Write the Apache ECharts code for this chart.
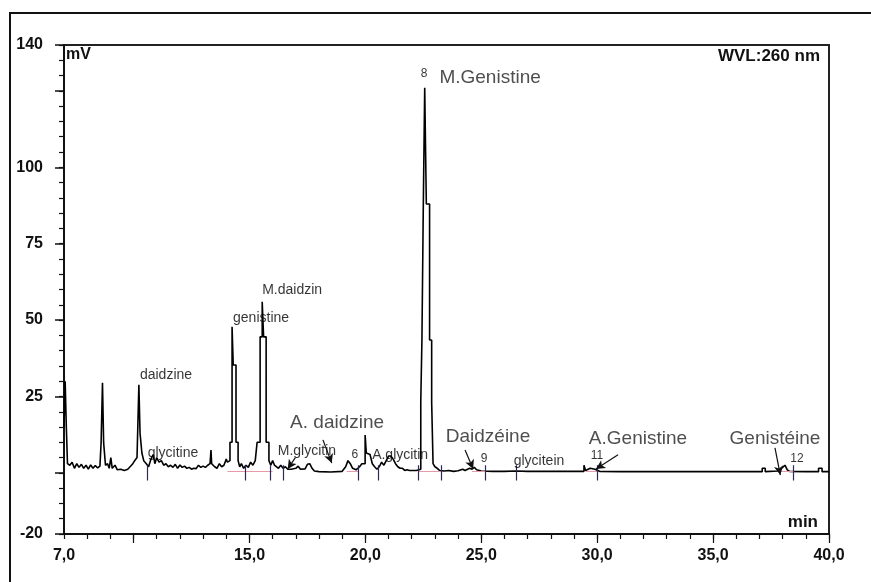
<!DOCTYPE html>
<html>
<head>
<meta charset="utf-8">
<script src="https://cdn.jsdelivr.net/npm/echarts@6/dist/echarts.min.js"></script>
<style>
  html, body { margin: 0; padding: 0; background: #fff; }
  #chart { width: 871px; height: 582px; }
</style>
</head>
<body>
<div id="chart"></div>
<script>
// Chromatogram trace at 260 nm: [retention time (min), signal (mV)]
// The detector output is stepped, so peak flanks repeat the time value.
const chromatogram = [
  [7.00, 15], [7.05, 15], [7.05, 30], [7.10, 30], [7.10, 15], [7.15, 15], [7.15, 3],
  [7.25, 2.5], [7.35, 3.5], [7.45, 1.5], [7.55, 3], [7.65, 1.8], [7.75, 2.8], [7.85, 1.5],
  [7.95, 2.5], [8.05, 1.2], [8.15, 2.6], [8.25, 1.5], [8.35, 2.4], [8.45, 1.6], [8.55, 2.2],
  [8.60, 2], [8.60, 9.8], [8.66, 9.8], [8.66, 29.5], [8.71, 29.5], [8.71, 9.8], [8.79, 9.8], [8.79, 2.5],
  [8.88, 3], [8.95, 1.5], [9.02, 5], [9.08, 1.5], [9.2, 2.5], [9.3, 1], [9.45, 1.2], [9.6, 0.8],
  [9.75, 1.2], [9.85, 2], [9.95, 2.8], [10.05, 4], [10.15, 5],
  [10.23, 5], [10.23, 28.8], [10.28, 28.8], [10.28, 13], [10.36, 13], [10.36, 6.5], [10.44, 6.5], [10.44, 4],
  [10.55, 3], [10.65, 2], [10.75, 4.5], [10.85, 6], [10.92, 3], [11.0, 5], [11.1, 3.5], [11.2, 4],
  [11.3, 2.5], [11.4, 3], [11.5, 2], [11.6, 2.5], [11.7, 1.8], [11.8, 2.8], [11.9, 1.5], [12.0, 2.6],
  [12.1, 1.8], [12.2, 2.2], [12.3, 1.5], [12.4, 1.8], [12.5, 1.2], [12.6, 1.5], [12.7, 1.4],
  [12.8, 2.5], [12.9, 1.8], [13.0, 2.2], [13.1, 1.8], [13.2, 2.5], [13.3, 3], [13.34, 3], [13.34, 7.5],
  [13.37, 7.5], [13.37, 3], [13.5, 2], [13.6, 1.5], [13.7, 3], [13.8, 2], [13.9, 2.5], [14.0, 4.5],
  [14.05, 3.5], [14.16, 4],
  [14.16, 10], [14.25, 10], [14.25, 47.8], [14.30, 47.8], [14.30, 35.3], [14.42, 35.3], [14.42, 10],
  [14.51, 10], [14.51, 4], [14.58, 2],
  [14.65, 3], [14.75, 1.5], [14.85, 2.5], [14.95, 1.8], [15.05, 3.5], [15.15, 2.5], [15.25, 4], [15.33, 4],
  [15.33, 10], [15.46, 10], [15.46, 44.5], [15.55, 44.5], [15.55, 56], [15.61, 56], [15.61, 44.5],
  [15.72, 44.5], [15.72, 10], [15.84, 10], [15.84, 4],
  [15.92, 2.5], [16.0, 4], [16.08, 2.5], [16.15, 3], [16.25, 1.5], [16.35, 2.5], [16.45, 1.5],
  [16.55, 2], [16.65, 1.2], [16.8, 1.2], [17.0, 1.5], [17.1, 2.2], [17.2, 1.2], [17.4, 1.3],
  [17.5, 2.8], [17.6, 3], [17.7, 1.5], [17.8, 0.6], [18.0, 0.4], [18.5, 0.3], [19.0, 0.5],
  [19.15, 2], [19.25, 4], [19.35, 3], [19.45, 1.5], [19.6, 1], [19.75, 2], [19.85, 3], [19.99, 3],
  [19.99, 12.4], [20.04, 12.4], [20.04, 6.5], [20.12, 6.5], [20.2, 6], [20.3, 3],
  [20.4, 2], [20.5, 1.2], [20.6, 2], [20.7, 3.5], [20.8, 2.5], [20.9, 4], [21.0, 5.5], [21.1, 5.5],
  [21.2, 4.5], [21.3, 3], [21.4, 2], [21.5, 1.5], [21.6, 1.5], [21.7, 0.8], [21.8, 1], [21.9, 0.8],
  [22.0, 0.8], [22.2, 0.8], [22.39, 1.2],
  [22.39, 23], [22.44, 23], [22.44, 43.5], [22.50, 43.5], [22.50, 88], [22.56, 88], [22.56, 126],
  [22.63, 126], [22.63, 88], [22.77, 88], [22.77, 43.5], [22.86, 43.5], [22.86, 23], [22.92, 23],
  [22.92, 3], [23.0, 2], [23.1, 1.5], [23.2, 0.8],
  [23.4, 0.6], [23.6, 0.8], [23.8, 0.5], [24.0, 0.7], [24.2, 1.2], [24.3, 0.8], [24.5, 1.5],
  [24.6, 1.2], [24.7, 1.8], [24.8, 1], [25.0, 0.6], [25.5, 0.5], [26.0, 0.5], [26.5, 0.6],
  [27.0, 0.5], [28.0, 0.5], [29.0, 0.5], [29.43, 0.5], [29.43, 2.5], [29.5, 2.5], [29.5, 0.8],
  [29.7, 1.5], [29.9, 1.2], [30.1, 0.5], [31.0, 0.4], [33.0, 0.4], [35.0, 0.4], [37.12, 0.4],
  [37.12, 1.5], [37.25, 1.5], [37.25, 0.4], [37.8, 0.6], [38.0, 1.8], [38.1, 2.5], [38.2, 1],
  [38.3, 0.5], [39.0, 0.4], [39.55, 0.4], [39.55, 1.5], [39.7, 1.5], [39.7, 0.4], [40.0, 0.4]
];

// Axis tick labels
const xLabelValues = [7, 15, 20, 25, 30, 35, 40];
const xMajorTicks = [10, 15, 20, 25, 30, 35, 40];
const yLabelValues = [-20, 25, 50, 75, 100, 140];
const yMajorTicks = [-20, 0, 25, 50, 75, 100, 125, 140];

// Peak names and where their text sits (time, mV)
const smallLabels = [
  ['daidzine', 11.40, 32.1], ['glycitine', 11.70, 6.5], ['genistine', 15.50, 50.7],
  ['M.daidzin', 16.84, 59.9], ['M.glycitin', 17.48, 7.2], ['A.glycitin', 21.50, 5.9],
  ['glycitein', 27.49, 3.9]
];
const peakNumbers = [
  ['8', 22.53, 130.6], ['6', 19.55, 5.9], ['9', 25.12, 4.6], ['11', 29.99, 5.6], ['12', 38.62, 4.6]
];
const largeLabels = [
  ['M.Genistine', 25.38, 129.3], ['A. daidzine', 18.78, 16.4], ['Daidzéine', 25.29, 11.8],
  ['A.Genistine', 31.76, 11.1], ['Genistéine', 37.67, 11.1]
];
// Arrows from label to peak: [fromTime, fromMV, toTime, toMV]
const arrows = [
  [18.17, 10.8, 18.55, 3.2], [16.98, 5.0, 16.65, 1.3], [24.30, 7.5, 24.65, 1.3],
  [30.90, 5.9, 29.95, 1.3], [37.67, 8.2, 37.90, -0.7]
];
// Integration markers (peak start/end drop lines)
const dropMarks = [10.6, 14.8, 15.89, 16.45, 19.68, 20.55, 22.27, 23.26, 25.16, 26.5, 30.0, 38.45];
// Integration baselines under peaks: [startTime, endTime]
const baselines = [[14.05, 16.0], [19.2, 19.7], [22.3, 23.2], [24.6, 25.2], [29.5, 30.0], [37.9, 38.5]];

const FONT = '"Liberation Sans", Arial, sans-serif';
const fmtX = v => v.toFixed(1).replace('.', ',');

function labelSeries(list, size, color) {
  return {
    type: 'scatter',
    symbolSize: 0,
    silent: true,
    z: 5,
    data: list.map(d => ({ name: d[0], value: [d[1], d[2]] })),
    label: {
      show: true, position: 'inside', formatter: '{b}',
      fontFamily: FONT, fontSize: size, color: color
    }
  };
}

const chart = echarts.init(document.getElementById('chart'), null, { renderer: 'canvas' });

chart.setOption({
  animation: false,
  backgroundColor: '#fff',
  grid: {
    left: 64, right: 42, top: 45, bottom: 48,
    show: true, borderColor: '#222', borderWidth: 2, backgroundColor: 'transparent'
  },
  xAxis: [
    {
      type: 'value', min: 7, max: 40, interval: 1,
      axisLine: { show: true, onZero: false, lineStyle: { color: '#111', width: 2 } },
      axisTick: { show: true, inside: false, length: 5, lineStyle: { color: '#111', width: 1.2 } },
      axisLabel: {
        show: true, customValues: xLabelValues, formatter: fmtX, margin: 14,
        fontFamily: FONT, fontSize: 16, fontWeight: 'bold', color: '#111'
      },
      splitLine: { show: false }
    },
    {
      type: 'value', min: 7, max: 40, position: 'bottom',
      axisLine: { show: false, onZero: false },
      axisTick: { show: true, customValues: xMajorTicks, length: 9, lineStyle: { color: '#111', width: 1.2 } },
      axisLabel: { show: false },
      splitLine: { show: false }
    }
  ],
  yAxis: [
    {
      type: 'value', min: -20, max: 140, interval: 5,
      axisLine: { show: true, onZero: false, lineStyle: { color: '#111', width: 2 } },
      axisTick: { show: true, inside: false, length: 5, lineStyle: { color: '#111', width: 1.2 } },
      axisLabel: {
        show: true, customValues: yLabelValues, margin: 21,
        fontFamily: FONT, fontSize: 16, fontWeight: 'bold', color: '#111'
      },
      splitLine: { show: false }
    },
    {
      type: 'value', min: -20, max: 140, position: 'left',
      axisLine: { show: false, onZero: false },
      axisTick: { show: true, customValues: yMajorTicks, length: 9, lineStyle: { color: '#111', width: 1.5 } },
      axisLabel: { show: false },
      splitLine: { show: false }
    }
  ],
  graphic: [
    { type: 'rect', silent: true, shape: { x: 10, y: 13, width: 900, height: 620 },
      style: { fill: 'none', stroke: '#111', lineWidth: 2 } },
    { type: 'text', left: 66, top: 47, silent: true,
      style: { text: 'mV', font: 'bold 16px ' + FONT, fill: '#111' } },
    { type: 'text', x: 820, y: 56, silent: true,
      style: { text: 'WVL:260 nm', font: 'bold 17px ' + FONT, fill: '#111', align: 'right', verticalAlign: 'middle' } },
    { type: 'text', x: 818, y: 522, silent: true,
      style: { text: 'min', font: 'bold 17px ' + FONT, fill: '#111', align: 'right', verticalAlign: 'middle' } }
  ],
  series: [
    {
      type: 'line',
      data: chromatogram,
      showSymbol: false,
      smooth: false,
      lineStyle: { color: '#000', width: 1.6 },
      z: 4,
      markLine: {
        silent: true,
        symbol: ['none', 'none'],
        label: { show: false },
        data: [
          ...baselines.map(b => [
            { coord: [b[0], 0.6], lineStyle: { color: '#e89aa8', width: 1, type: 'solid' } },
            { coord: [b[1], 0.6] }
          ]),
          ...dropMarks.map(t => [
            { coord: [t, 2.5], lineStyle: { color: '#2a2a5a', width: 1.2, type: 'solid' } },
            { coord: [t, -2.5] }
          ])
        ]
      }
    },
    {
      type: 'line',
      data: [],
      markLine: {
        silent: true,
        symbol: ['none', 'arrow'],
        symbolSize: [7, 9],
        label: { show: false },
        lineStyle: { color: '#111', width: 1.2, type: 'solid' },
        data: arrows.map(a => [{ coord: [a[0], a[1]] }, { coord: [a[2], a[3]] }])
      }
    },
    labelSeries(smallLabels, 14, '#000'),
    labelSeries(peakNumbers, 12, '#000'),
    labelSeries(largeLabels, 19, '#222')
  ]
});
</script>
</body>
</html>
